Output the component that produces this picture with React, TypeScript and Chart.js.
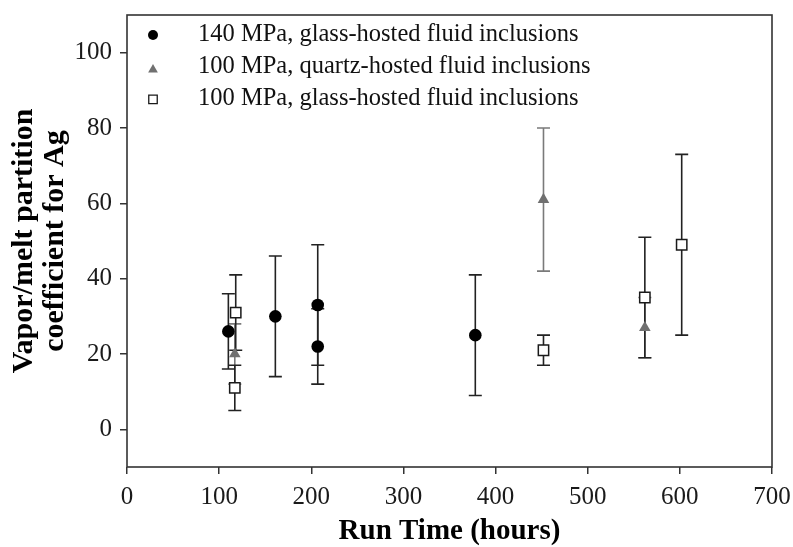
import React, { useEffect, useRef } from 'react';
import { Chart, registerables } from 'chart.js';

Chart.register(...registerables);

// ---- Data ----
const SERIES_LABELS = [
  '140 MPa, glass-hosted fluid inclusions',
  '100 MPa, quartz-hosted fluid inclusions',
  '100 MPa, glass-hosted fluid inclusions',
];

const GLASS140_HOURS = [110, 161, 207, 207, 378];
const GLASS140_VALUES = [26, 30, 33, 22, 25];
const GLASS140_ERR = [10, 16, 16, 10, 16];

const QUARTZ100_HOURS = [117, 452, 562];
const QUARTZ100_VALUES = [20, 61, 27];
const QUARTZ100_ERR = [8, 19, 8];

const GLASS100_HOURS = [118, 117, 452, 562, 602];
const GLASS100_VALUES = [31, 11, 21, 35, 49];
const GLASS100_ERR = [10, 6, 4, 16, 24];

const X_TICKS = [0, 100, 200, 300, 400, 500, 600, 700];
const Y_TICKS = [0, 20, 40, 60, 80, 100];

const X_TITLE = 'Run Time (hours)';
const Y_TITLE = ['Vapor/melt partition', 'coefficient for Ag'];

const FONT = '"Liberation Serif", "Times New Roman", Times, serif';
const AXIS_COLOR = '#333333';
const GREY = '#707070';

const ERRORS = [GLASS140_ERR, QUARTZ100_ERR, GLASS100_ERR];
const ERROR_COLORS = ['#222222', '#7a7a7a', '#222222'];
const ERROR_DRAW_ORDER = [1, 2, 0];

function drawMarker(ctx: CanvasRenderingContext2D, style: string, x: number, y: number, r: number, fill: string, stroke: string, lw: number) {
  ctx.save();
  ctx.fillStyle = fill;
  ctx.strokeStyle = stroke;
  ctx.lineWidth = lw;
  ctx.beginPath();
  if (style === 'circle') {
    ctx.arc(x, y, r, 0, Math.PI * 2);
  } else if (style === 'triangle') {
    ctx.moveTo(x, y - r);
    ctx.lineTo(x + r * Math.sqrt(3) / 2, y + r / 2);
    ctx.lineTo(x - r * Math.sqrt(3) / 2, y + r / 2);
    ctx.closePath();
  } else {
    const s = r * Math.SQRT1_2;
    ctx.rect(x - s, y - s, 2 * s, 2 * s);
  }
  ctx.fill();
  if (lw > 0) ctx.stroke();
  ctx.restore();
}

const errorBarsPlugin = {
  id: 'errorBars',
  beforeDatasetsDraw(chart: any) {
    const { ctx, scales } = chart;
    const xs = scales.x;
    const ys = scales.y;
    ctx.save();
    ctx.lineWidth = 1.6;
    for (const di of ERROR_DRAW_ORDER) {
      const ds = chart.data.datasets[di];
      const errs = ERRORS[di];
      ctx.strokeStyle = ERROR_COLORS[di];
      ds.data.forEach((p: any, i: number) => {
        const px = xs.getPixelForValue(p.x);
        const top = ys.getPixelForValue(p.y + errs[i]);
        const bot = ys.getPixelForValue(p.y - errs[i]);
        const cap = 6.5;
        ctx.beginPath();
        ctx.moveTo(px, top);
        ctx.lineTo(px, bot);
        ctx.moveTo(px - cap, top);
        ctx.lineTo(px + cap, top);
        ctx.moveTo(px - cap, bot);
        ctx.lineTo(px + cap, bot);
        ctx.stroke();
      });
    }
    ctx.restore();
  },
};

const framePlugin = {
  id: 'frame',
  afterDraw(chart: any) {
    const { ctx, chartArea } = chart;
    ctx.save();
    ctx.strokeStyle = AXIS_COLOR;
    ctx.lineWidth = 1.6;
    ctx.strokeRect(chartArea.left, chartArea.top, chartArea.right - chartArea.left, chartArea.bottom - chartArea.top);
    ctx.restore();
  },
};

const legendPlugin = {
  id: 'innerLegend',
  afterDraw(chart: any) {
    const { ctx, chartArea } = chart;
    const rowH = 31.7;
    const markerX = chartArea.left + 26;
    const textX = chartArea.left + 71;
    ctx.save();
    chart.data.datasets.forEach((ds: any, i: number) => {
      const y = chartArea.top + 20 + i * rowH;
      const style = ds.pointStyle;
      if (style === 'circle') drawMarker(ctx, 'circle', markerX, y, 5, ds.pointBackgroundColor, ds.pointBorderColor, 0);
      else if (style === 'triangle') drawMarker(ctx, 'triangle', markerX, y + 3, 5.6, ds.pointBackgroundColor, ds.pointBorderColor, 0);
      else drawMarker(ctx, 'rect', markerX, y + 1, 6, ds.pointBackgroundColor, ds.pointBorderColor, 1.3);
      ctx.fillStyle = '#111111';
      ctx.font = `24.5px ${FONT}`;
      ctx.textAlign = 'left';
      ctx.textBaseline = 'middle';
      ctx.fillText(ds.label, textX, y);
    });
    ctx.restore();
  },
};

export default function App() {
  const ref = useRef<HTMLCanvasElement>(null);

  useEffect(() => {
    const canvas = ref.current;
    if (!canvas) return;
    const toPoints = (xs: number[], ys: number[]) => xs.map((x, i) => ({ x, y: ys[i] }));
    const tickFont = { family: FONT, size: 25 };

    const chart = new Chart(canvas, {
      type: 'scatter',
      data: {
        datasets: [
          {
            label: SERIES_LABELS[0],
            data: toPoints(GLASS140_HOURS, GLASS140_VALUES),
            pointStyle: 'circle',
            pointRadius: 6.3,
            pointBackgroundColor: '#000000',
            pointBorderColor: '#000000',
            pointBorderWidth: 0,
          },
          {
            label: SERIES_LABELS[1],
            data: toPoints(QUARTZ100_HOURS, QUARTZ100_VALUES),
            pointStyle: 'triangle',
            pointRadius: 6.7,
            pointBackgroundColor: GREY,
            pointBorderColor: GREY,
            pointBorderWidth: 0,
          },
          {
            label: SERIES_LABELS[2],
            data: toPoints(GLASS100_HOURS, GLASS100_VALUES),
            pointStyle: 'rect',
            pointRadius: 7.3,
            pointBackgroundColor: '#ffffff',
            pointBorderColor: '#1a1a1a',
            pointBorderWidth: 1.5,
          },
        ],
      },
      options: {
        responsive: false,
        animation: false,
        events: [],
        layout: { padding: { top: 15, right: 21, left: 0, bottom: 0 } },
        plugins: { legend: { display: false }, tooltip: { enabled: false } },
        scales: {
          x: {
            type: 'linear',
            min: 0,
            max: 700,
            afterBuildTicks: (s: any) => { s.ticks = X_TICKS.map((v) => ({ value: v })); },
            afterFit: (s: any) => { s.height = 80; s.paddingLeft = 0; s.paddingRight = 0; },
            grid: { display: true, drawOnChartArea: false, drawTicks: true, tickLength: 7, color: AXIS_COLOR, lineWidth: 1.5 },
            border: { display: false },
            ticks: { font: tickFont, color: '#1a1a1a', padding: 8, maxRotation: 0, autoSkip: false },
            title: { display: true, text: X_TITLE, font: { family: FONT, size: 29, weight: 'bold', lineHeight: 1.1 }, color: '#000000', padding: { top: 0, bottom: 0 } },
          },
          y: {
            type: 'linear',
            min: -10,
            max: 110,
            afterBuildTicks: (s: any) => { s.ticks = Y_TICKS.map((v) => ({ value: v })); },
            afterFit: (s: any) => { s.width = 127; s.paddingTop = 0; s.paddingBottom = 0; },
            grid: { display: true, drawOnChartArea: false, drawTicks: true, tickLength: 7, color: AXIS_COLOR, lineWidth: 1.5 },
            border: { display: false },
            ticks: { font: tickFont, color: '#1a1a1a', padding: 8, autoSkip: false },
            title: { display: true, text: Y_TITLE, font: { family: FONT, size: 30, weight: 'bold', lineHeight: 1.03 }, color: '#000000', padding: { top: 9, bottom: 0 } },
          },
        },
      },
      plugins: [errorBarsPlugin, framePlugin, legendPlugin],
    } as any);

    return () => chart.destroy();
  }, []);

  return (
    <div style={{ position: 'absolute', left: 0, top: 0, width: 793, height: 547, background: '#ffffff' }}>
      <canvas ref={ref} width={793} height={547} style={{ display: 'block', width: 793, height: 547 }} />
    </div>
  );
}
